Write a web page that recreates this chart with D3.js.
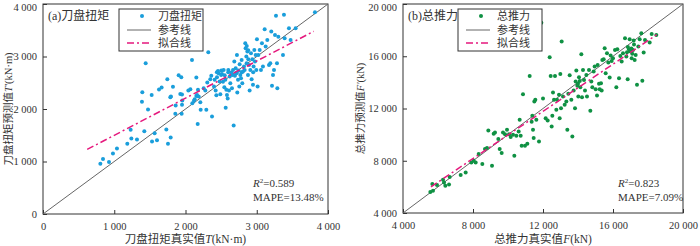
<!DOCTYPE html>
<html>
<head>
<meta charset="utf-8">
<script src="https://cdn.jsdelivr.net/npm/d3@7"></script>
<style>
  body { margin: 0; background: #fff; }
  svg text { font-family: "Liberation Serif", "Noto Sans CJK SC", serif; fill: #333; }
</style>
</head>
<body>
<svg width="700" height="246"></svg>
<script>
// panel (a): cutter torque, kN·m  [true, predicted]
var torquePts = [
  [805,957],[842,1046],[926,989],[982,1154],[1038,1249],[1183,1338],[1240,1439],[1319,1420],
  [1230,1604],[1422,1578],[1389,2136],[1394,2320],[1441,2872],[1474,1990],[1525,2269],[1530,1382],
  [1567,1540],[1600,1407],[1628,2371],[1665,2409],[1731,1610],[1745,2567],[1754,1338],[1787,2225],
  [1792,1458],[1796,2238],[1824,2422],[1857,1908],[1862,2067],[1904,2643],[1927,2288],[1941,2605],
  [1946,1908],[1951,2080],[1955,2162],[1951,2276],[2040,2352],[2068,2377],[2091,2935],[2096,2111],
  [2119,2155],[2129,2187],[2152,2599],[2152,2250],[2162,2269],[2175,2365],[2171,1712],[2185,2238],
  [2208,2130],[2213,1984],[2255,2396],[2278,2352],[2292,1984],[2306,2504],[2320,3081],[2348,2567],
  [2362,2631],[2372,1857],[2400,2428],[2409,2555],[2423,2352],[2433,2263],[2442,2605],[2456,2726],
  [2465,2681],[2479,2523],[2489,2282],[2503,2732],[2512,2669],[2526,2517],[2535,2745],[2545,2415],
  [2550,2643],[2559,2555],[2564,2022],[2573,2365],[2582,2269],[2592,2200],[2601,2745],[2610,2352],
  [2620,2618],[2629,2491],[2643,2694],[2652,2396],[2657,2650],[2667,2745],[2676,1686],[2685,2903],
  [2694,2631],[2704,2777],[2713,2681],[2722,3030],[2727,2314],[2737,2555],[2746,2732],[2755,2428],
  [2760,2853],[2769,2650],[2779,2586],[2788,2935],[2797,2491],[2807,2713],[2821,2808],[2830,2745],
  [2839,3252],[2844,3157],[2854,2998],[2858,2872],[2868,3094],[2877,2650],[2882,2948],[2891,2840],
  [2900,2352],[2910,2745],[2919,3062],[2928,2567],[2938,2948],[2947,2460],[2956,2808],[2966,3125],
  [2975,2903],[2985,3030],[2994,2745],[3003,3328],[3012,2428],[3022,3030],[3041,3125],[3059,2745],
  [3073,3252],[3087,2808],[3111,3518],[3125,3189],[3148,3315],[3172,2840],[3190,2872],[3204,3474],
  [3214,2441],[3228,2650],[3242,2745],[3256,3410],[3270,3778],[3284,2872],[3289,2396],[3303,3378],
  [3368,3030],[3382,3797],[3391,3347],[3452,3537],[3475,3315],[3546,3537],[3817,3841],
  [2860,3200],[2880,3120],[2720,2690],[2600,2700],[2500,2650],[2440,2700],[2790,2700],[2950,2700]
];
// panel (b): total thrust, kN  [true, predicted]
var thrustPts = [
  [5562,5605],[5714,5707],[5676,6217],[5943,6140],[6286,6548],[6343,6344],[6419,6089],[6629,6191],
  [6667,6752],[7295,6905],[7581,7108],[7905,7873],[8038,8000],[8152,7873],[8324,8510],[8533,7745],
  [8686,8892],[8800,8968],[8876,10319],[9086,7618],[9181,10064],[9257,10166],[9448,9656],[9524,8892],
  [9638,8586],[9714,10166],[9829,10038],[9943,10370],[10057,10038],[10152,9809],[10286,9987],[10362,8382],
  [10476,9911],[10610,10242],[10667,11134],[10724,9911],[10781,9146],[10857,13096],[10971,9146],[11105,9299],
  [11238,14497],[11352,10981],[11390,11440],[11429,10370],[11467,9733],[11505,12535],[11562,12663],[11619,11134],
  [11771,9478],[11905,18573],[12000,12764],[12152,11261],[12267,11083],[12381,15924],[12438,14497],[12495,10624],
  [12533,11440],[12571,13223],[12629,12663],[12686,14497],[12762,11898],[12800,12663],[12914,13045],[12952,11261],
  [12990,14650],[13029,12025],[13067,17121],[13143,12917],[13238,12280],[13333,12535],[13390,10370],[13448,13121],
  [13524,14548],[13619,12663],[13676,9860],[13752,13376],[13829,12025],[13867,14064],[13905,14905],[13962,13733],
  [14019,12917],[14057,14395],[14133,13631],[14190,16153],[14229,12866],[14286,14956],[14343,14191],[14400,13376],
  [14476,14573],[14514,12917],[14629,14956],[14705,11822],[14762,14064],[14819,13631],[14895,14829],[14952,15210],
  [15010,13478],[15086,12994],[15124,15338],[15200,13886],[15238,13478],[15314,13937],[15352,13376],[15390,15720],
  [15467,15771],[15524,16612],[15581,14701],[15657,16230],[15733,15516],[15810,14370],[15867,16051],[15924,15643],
  [16000,15847],[16114,16484],[16190,13631],[16248,16535],[16343,14318],[16419,16026],[16495,15592],[16571,16230],
  [16686,17376],[16762,15975],[16838,14242],[16914,16535],[16952,17299],[17010,16357],[17067,15847],[17143,16484],
  [17181,17197],[17238,15720],[17295,16102],[17371,13809],[17448,16739],[17524,17299],[17619,17758],[17676,14115],
  [17752,16280],[17829,17248],[18095,17044],[18210,17707],[18476,17631],
  [16850,16700],[16950,16400],[17050,16600],[17100,16200],[16800,16300],[17200,16900],[14100,14100],[14000,13900]
];

var torqueTicks = [0, 1000, 2000, 3000, 4000];
var thrustTicks = [4000, 8000, 12000, 16000, 20000];
var torqueFit = [[620, 1230], [3800, 3480]];
var thrustFit = [[5600, 6000], [18500, 17650]];

var svg = d3.select("svg");
var fmt = function(d){ return d3.format(",")(d).replace(/,/g, " "); };

var panels = [
  {left: 43, right: 328, top: 4, bottom: 214, domain: [0, 4000], ticks: torqueTicks,
   pts: torquePts, fit: torqueFit, color: "#1a9edb", tag: "(a)刀盘扭矩", name: "刀盘扭矩",
   xlab: ["刀盘扭矩真实值", "T", "(kN·m)"], ylab: ["刀盘扭矩预测值", "T′", "(kN·m)"],
   r2: "0.589", mape: "13.48%", legX: 119, annX: 253, ylabX: 8},
  {left: 403, right: 683, top: 4, bottom: 213, domain: [4000, 20000], ticks: thrustTicks,
   pts: thrustPts, fit: thrustFit, color: "#0f9143", tag: "(b)总推力", name: "总推力",
   xlab: ["总推力真实值", "F", "(kN)"], ylab: ["总推力预测值", "F′", "(kN)"],
   r2: "0.823", mape: "7.09%", legX: 458, annX: 618, ylabX: 360}
];

panels.forEach(function(p){
  var x = d3.scaleLinear().domain(p.domain).range([p.left, p.right]);
  var y = d3.scaleLinear().domain(p.domain).range([p.bottom, p.top]);
  var g = svg.append("g");

  // axes with inward ticks
  var xa = g.append("g").attr("transform", "translate(0," + p.bottom + ")")
    .call(d3.axisBottom(x).tickValues(p.ticks).tickFormat(fmt).tickSizeInner(-4).tickSizeOuter(0).tickPadding(9));
  var ya = g.append("g").attr("transform", "translate(" + p.left + ",0)")
    .call(d3.axisLeft(y).tickValues(p.ticks).tickFormat(fmt).tickSizeInner(-4).tickSizeOuter(0).tickPadding(6));
  [xa, ya].forEach(function(a){
    a.select(".domain").remove();
    a.selectAll("line").attr("stroke", "#333");
    a.selectAll("text").style("font-size", "10.5px").attr("fill", "#333");
  });
  // keep the top label inside the picture
  ya.selectAll(".tick").filter(function(d){ return d === p.domain[1]; })
    .select("text").attr("dy", "0.6em");

  g.append("rect").attr("x", p.left).attr("y", p.top)
    .attr("width", p.right - p.left).attr("height", p.bottom - p.top)
    .attr("fill", "none").attr("stroke", "#333").attr("stroke-width", 1);

  // reference line
  g.append("line")
    .attr("x1", x(p.domain[0])).attr("y1", y(p.domain[0]))
    .attr("x2", x(p.domain[1])).attr("y2", y(p.domain[1]))
    .attr("stroke", "#666").attr("stroke-width", 1);

  g.selectAll(".pt").data(p.pts).enter().append("circle")
    .attr("cx", function(d){ return x(d[0]); })
    .attr("cy", function(d){ return y(d[1]); })
    .attr("r", 2).attr("fill", p.color);

  // fit line
  g.append("path").datum(p.fit)
    .attr("d", d3.line().x(function(d){ return x(d[0]); }).y(function(d){ return y(d[1]); }))
    .attr("fill", "none").attr("stroke", "#e5197d").attr("stroke-width", 1.5)
    .attr("stroke-dasharray", "7,3,2,3");

  g.append("text").attr("x", p.left + 5).attr("y", 20).style("font-size", "12px").text(p.tag);

  // legend
  var lg = g.append("g").attr("transform", "translate(" + p.legX + ",9)");
  lg.append("rect").attr("width", 84).attr("height", 42)
    .attr("fill", "#fff").attr("stroke", "#333").attr("stroke-width", 1);
  lg.append("circle").attr("cx", 23).attr("cy", 7).attr("r", 2).attr("fill", p.color);
  lg.append("line").attr("x1", 8).attr("x2", 32).attr("y1", 21).attr("y2", 21)
    .attr("stroke", "#666").attr("stroke-width", 1);
  lg.append("line").attr("x1", 8).attr("x2", 32).attr("y1", 34).attr("y2", 34)
    .attr("stroke", "#e5197d").attr("stroke-width", 1.5).attr("stroke-dasharray", "7,3,2,3");
  [p.name, "参考线", "拟合线"].forEach(function(t, i){
    lg.append("text").attr("x", 39).attr("y", 11 + i * 13.5).style("font-size", "11px").text(t);
  });

  // annotations
  var r2 = g.append("text").attr("x", p.annX).attr("y", 187).style("font-size", "11px");
  r2.append("tspan").style("font-style", "italic").text("R");
  r2.append("tspan").attr("dy", -4).style("font-size", "7px").text("2");
  r2.append("tspan").attr("dy", 4).text("=" + p.r2);
  g.append("text").attr("x", p.annX).attr("y", 201).style("font-size", "11px").text("MAPE=" + p.mape);

  // axis titles
  var cx = (p.left + p.right) / 2;
  var xt = g.append("text").attr("x", cx).attr("y", 243).attr("text-anchor", "middle").style("font-size", "11.5px");
  xt.append("tspan").text(p.xlab[0]);
  xt.append("tspan").style("font-style", "italic").text(p.xlab[1]);
  xt.append("tspan").text(p.xlab[2]);

  var cy = (p.top + p.bottom) / 2;
  var yt = g.append("text").attr("transform", "translate(" + (p.ylabX + 4) + "," + cy + ") rotate(-90)")
    .attr("text-anchor", "middle").style("font-size", "10.5px");
  yt.append("tspan").text(p.ylab[0]);
  yt.append("tspan").style("font-style", "italic").text(p.ylab[1]);
  yt.append("tspan").text(p.ylab[2]);
});
</script>
</body>
</html>
